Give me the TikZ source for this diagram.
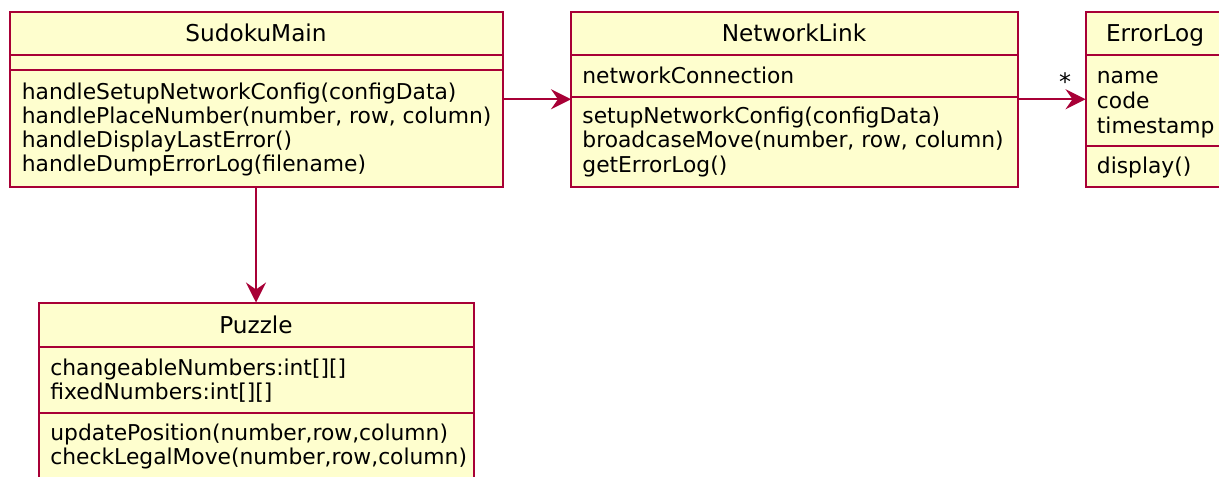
\documentclass[tikz,border=0pt]{standalone}
\usepackage{fontspec}
\setmainfont{DejaVu Sans}
\usetikzlibrary{arrows.meta}
\usetikzlibrary{fit}

\definecolor{umlfill}{HTML}{FEFECE}
\definecolor{umlline}{HTML}{A80036}

\tikzset{
    classbox/.style = {draw=umlline, fill=umlfill, line width=1pt, inner sep=0pt, outer sep=0pt},
    sepline/.style = {umlline, line width=1pt},
    classname/.style = {font=\fontsize{11.6}{14}\selectfont, inner sep=0pt, anchor=base},
    member/.style = {font=\fontsize{10.9}{12}\selectfont, inner sep=0pt, anchor=base west},
    assoc/.style = {umlline, line width=0.8pt, -{Stealth[length=10pt, width=10pt, inset=3.5pt]}}
}

\begin{document}
\begin{tikzpicture}[x=0.5pt, y=-0.5pt]
    \useasboundingbox (0,0) rectangle (1219,476);
    \clip (0,0) rectangle (1219,476);

    % SudokuMain
    \node[classbox, fit={(9.5,12) (502.5,186.5)}] (main) {};
    \draw[sepline] (main.west |- 0,55) -- (main.east |- 0,55);
    \draw[sepline] (main.west |- 0,70.5) -- (main.east |- 0,70.5);
    \node[classname] (mainname) at (256,42) {SudokuMain};
    \foreach \txt [count=\i from 0] in {handleSetupNetworkConfig(configData), {handlePlaceNumber(number, row, column)}, handleDisplayLastError(), handleDumpErrorLog(filename)}
        \node[member] (mainop\i) at (21.5,{99.5+24*\i}) {\txt};

    % NetworkLink
    \node[classbox, fit={(571,12) (1017.5,186.5)}] (net) {};
    \draw[sepline] (net.west |- 0,55) -- (net.east |- 0,55);
    \draw[sepline] (net.west |- 0,96.7) -- (net.east |- 0,96.7);
    \node[classname] (netname) at (794,42) {NetworkLink};
    \node[member] (netattr) at (582,83.5) {networkConnection};
    \foreach \txt [count=\i from 0] in {setupNetworkConfig(configData), {broadcaseMove(number, row, column)}, getErrorLog()}
        \node[member] (netop\i) at (582,{124+24*\i}) {\txt};

    % ErrorLog (runs off the right edge)
    \node[classbox, fit={(1085.5,12) (1230,186.5)}] (err) {};
    \draw[sepline] (err.west |- 0,55) -- (err.east |- 0,55);
    \draw[sepline] (err.west |- 0,145.7) -- (err.east |- 0,145.7);
    \node[classname] (errname) at (1155,42) {ErrorLog};
    \foreach \txt [count=\i from 0] in {name, code, timestamp}
        \node[member] (errattr\i) at (1096.5,{83.5+25*\i}) {\txt};
    \node[member] (errop) at (1096.5,173.5) {display()};

    % Puzzle (runs off the bottom edge)
    \node[classbox, fit={(38.5,302.5) (473.5,520)}] (puzzle) {};
    \draw[sepline] (puzzle.west |- 0,347) -- (puzzle.east |- 0,347);
    \draw[sepline] (puzzle.west |- 0,413) -- (puzzle.east |- 0,413);
    \node[classname] (puzzlename) at (256,333) {Puzzle};
    \foreach \txt [count=\i from 0] in {changeableNumbers:int[][], fixedNumbers:int[][]}
        \node[member] (puzzleattr\i) at (50,{375+24.3*\i}) {\txt};
    \foreach \txt [count=\i from 0] in {{updatePosition(number,row,column)}, {checkLegalMove(number,row,column)}}
        \node[member] (puzzleop\i) at (50,{440+24*\i}) {\txt};

    % associations
    \draw[assoc] (main) -- (net);
    \draw[assoc] (net) -- node[pos=0.7, above=4pt, member, anchor=south, text=black, font=\fontsize{12}{12}\selectfont] (many) {*} (err);
    \draw[assoc] (main.south -| puzzle.north) -- (puzzle.north);

\end{tikzpicture}
\end{document}
